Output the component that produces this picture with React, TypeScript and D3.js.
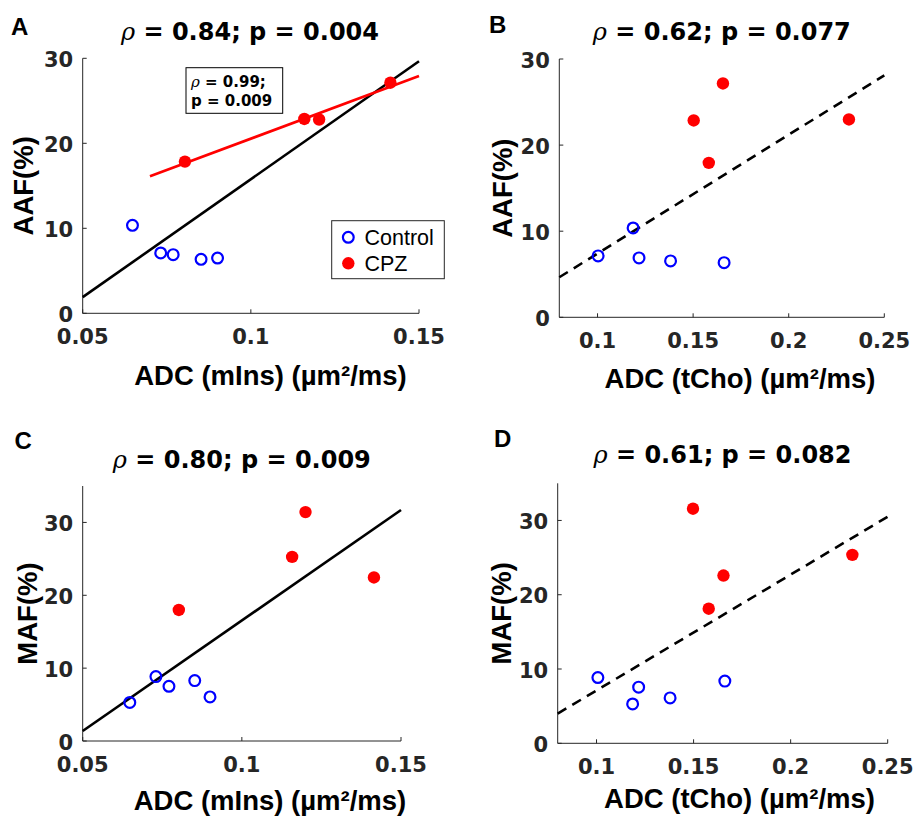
import React from "react";
import * as d3 from "d3";

// ---------- data ----------
const panelLetters = ["A", "B", "C", "D"];
const titleRho = ["0.84", "0.62", "0.80", "0.61"];
const titleP = ["0.004", "0.077", "0.009", "0.082"];
const xLabels = ["ADC (mIns) (µm²/ms)", "ADC (tCho) (µm²/ms)", "ADC (mIns) (µm²/ms)", "ADC (tCho) (µm²/ms)"];
const yLabels = ["AAF(%)", "AAF(%)", "MAF(%)", "MAF(%)"];

const xTicksMIns = [0.05, 0.1, 0.15];
const xTicksTCho = [0.1, 0.15, 0.2, 0.25];
const yTicks = [0, 10, 20, 30];
const xTickText = (v: number) => String(+v.toFixed(2));

const ctrlX_A = [0.0648, 0.0732, 0.0769, 0.0852, 0.0901];
const ctrlY_A = [10.35, 7.1, 6.9, 6.35, 6.5];
const cpzX_A = [0.0804, 0.1159, 0.1203, 0.1415];
const cpzY_A = [17.85, 22.86, 22.8, 27.13];
const fitX_A = [0.05, 0.15];
const fitY_A = [1.9, 29.65];
const cpzFitX_A = [0.07, 0.15];
const cpzFitY_A = [16.12, 27.92];

const ctrlX_B = [0.1003, 0.1186, 0.1217, 0.1382, 0.1662];
const ctrlY_B = [7.13, 10.38, 6.9, 6.55, 6.35];
const cpzX_B = [0.1503, 0.1656, 0.1582, 0.2315];
const cpzY_B = [22.86, 27.16, 17.94, 22.98];
const fitX_B = [0.08, 0.25];
const fitY_B = [4.65, 28.1];

const ctrlX_C = [0.0648, 0.073, 0.0771, 0.0852, 0.09];
const ctrlY_C = [5.29, 8.84, 7.51, 8.29, 6.05];
const cpzX_C = [0.0802, 0.1158, 0.12, 0.1415];
const cpzY_C = [17.99, 25.27, 31.42, 22.45];
const fitX_C = [0.05, 0.15];
const fitY_C = [1.37, 31.7];

const ctrlX_D = [0.1007, 0.1186, 0.1217, 0.1379, 0.1661];
const ctrlY_D = [8.85, 5.3, 7.56, 6.11, 8.37];
const cpzX_D = [0.1497, 0.1654, 0.1578, 0.2318];
const cpzY_D = [31.58, 22.58, 18.12, 25.37];
const fitX_D = [0.08, 0.25];
const fitY_D = [4.0, 30.5];

const legendLabels = ["Control", "CPZ"];
const insetRho = "0.99";
const insetP = "0.009";

// ---------- layout ----------
type Panel = {
  letter: string;
  letterPos: [number, number];
  x0: number; x1: number; yTopPx: number; yBotPx: number;
  xDomain: [number, number]; yDomain: [number, number];
  xTicks: number[];
  titleX: number; titleY: number;
  xLabel: string; xLabelX: number; xLabelY: number;
  yLabel: string; yLabelX: number;
  ctrlX: number[]; ctrlY: number[]; cpzX: number[]; cpzY: number[];
  fitX: number[]; fitY: number[]; dashed: boolean;
  rho: string; p: string;
};

const panels: Panel[] = [
  {
    letter: panelLetters[0], letterPos: [11, 35],
    x0: 82.7, x1: 419, yTopPx: 58.3, yBotPx: 313.3,
    xDomain: [0.05, 0.15], yDomain: [0, 30], xTicks: xTicksMIns,
    titleX: 250, titleY: 40,
    xLabel: xLabels[0], xLabelX: 270.5, xLabelY: 385,
    yLabel: yLabels[0], yLabelX: 23,
    ctrlX: ctrlX_A, ctrlY: ctrlY_A, cpzX: cpzX_A, cpzY: cpzY_A,
    fitX: fitX_A, fitY: fitY_A, dashed: false,
    rho: titleRho[0], p: titleP[0],
  },
  {
    letter: panelLetters[1], letterPos: [489, 33],
    x0: 559.3, x1: 884.3, yTopPx: 59, yBotPx: 317.3,
    xDomain: [0.08, 0.25], yDomain: [0, 30], xTicks: xTicksTCho,
    titleX: 721.8, titleY: 40,
    xLabel: xLabels[1], xLabelX: 740, xLabelY: 388,
    yLabel: yLabels[1], yLabelX: 502.5,
    ctrlX: ctrlX_B, ctrlY: ctrlY_B, cpzX: cpzX_B, cpzY: cpzY_B,
    fitX: fitX_B, fitY: fitY_B, dashed: true,
    rho: titleRho[1], p: titleP[1],
  },
  {
    letter: panelLetters[2], letterPos: [14.5, 449],
    x0: 82.7, x1: 401, yTopPx: 486, yBotPx: 741,
    xDomain: [0.05, 0.15], yDomain: [0, 35], xTicks: xTicksMIns,
    titleX: 241.8, titleY: 468.3,
    xLabel: xLabels[2], xLabelX: 270, xLabelY: 810,
    yLabel: yLabels[2], yLabelX: 27,
    ctrlX: ctrlX_C, ctrlY: ctrlY_C, cpzX: cpzX_C, cpzY: cpzY_C,
    fitX: fitX_C, fitY: fitY_C, dashed: false,
    rho: titleRho[2], p: titleP[2],
  },
  {
    letter: panelLetters[3], letterPos: [494, 446.7],
    x0: 557.7, x1: 887.7, yTopPx: 483.3, yBotPx: 743.3,
    xDomain: [0.08, 0.25], yDomain: [0, 35], xTicks: xTicksTCho,
    titleX: 722.5, titleY: 463.3,
    xLabel: xLabels[3], xLabelX: 739.5, xLabelY: 808,
    yLabel: yLabels[3], yLabelX: 501,
    ctrlX: ctrlX_D, ctrlY: ctrlY_D, cpzX: cpzX_D, cpzY: cpzY_D,
    fitX: fitX_D, fitY: fitY_D, dashed: true,
    rho: titleRho[3], p: titleP[3],
  },
];

const AX = "#262626";
const ARIAL = "'Liberation Sans', Arial, sans-serif";
const DJV = "'DejaVu Sans', sans-serif";
const SERIF = "'DejaVu Serif', serif";

function PanelView({ p, idx }: { p: Panel; idx: number }) {
  const x = d3.scaleLinear().domain(p.xDomain).range([p.x0, p.x1]);
  const y = d3.scaleLinear().domain(p.yDomain).range([p.yBotPx, p.yTopPx]);
  const line = d3.line<number>().x((_, i) => x(p.fitX[i])).y((v) => y(v));
  const yMid = (p.yBotPx + p.yTopPx) / 2;

  return (
    <g>
      {/* panel letter */}
      <text x={p.letterPos[0]} y={p.letterPos[1]} fontFamily={ARIAL} fontWeight="bold" fontSize={24} fill="#000">
        {p.letter}
      </text>
      {/* title */}
      <text x={p.titleX} y={p.titleY} textAnchor="middle" fontSize={24} fill="#000">
        <tspan fontFamily={SERIF} fontStyle="italic">ρ</tspan>
        <tspan fontFamily={DJV} fontWeight="bold">{` = ${p.rho}; p = ${p.p}`}</tspan>
      </text>

      {/* axes */}
      <line x1={p.x0} x2={p.x0} y1={p.yTopPx} y2={p.yBotPx} stroke={AX} strokeWidth={1} />
      <line x1={p.x0} x2={p.x1} y1={p.yBotPx} y2={p.yBotPx} stroke={AX} strokeWidth={1} />
      {yTicks.map((t) => (
        <g key={"yt" + t}>
          <line x1={p.x0} x2={p.x0 + 4} y1={y(t)} y2={y(t)} stroke={AX} strokeWidth={1} />
          <text x={p.x0 - 9.5} y={y(t) + 8.5} textAnchor="end" fontFamily={DJV} fontWeight="bold" fontSize={21} fill={AX}>
            {t}
          </text>
        </g>
      ))}
      {p.xTicks.map((t) => (
        <g key={"xt" + t}>
          <line x1={x(t)} x2={x(t)} y1={p.yBotPx} y2={p.yBotPx - 4} stroke={AX} strokeWidth={1} />
          <text x={x(t)} y={p.yBotPx + 31} textAnchor="middle" fontFamily={DJV} fontWeight="bold" fontSize={21} fill={AX}>
            {xTickText(t)}
          </text>
        </g>
      ))}

      {/* axis labels */}
      <text x={p.xLabelX} y={p.xLabelY} textAnchor="middle" fontFamily={ARIAL} fontWeight="bold" fontSize={27.5} fill="#000">
        {p.xLabel}
      </text>
      <text
        transform={`translate(${p.yLabelX},${yMid}) rotate(-90)`}
        textAnchor="middle"
        dy="0.35em"
        fontFamily={ARIAL}
        fontWeight="bold"
        fontSize={27.5}
        fill="#000"
      >
        {p.yLabel}
      </text>

      {/* fit line */}
      <path
        d={line(p.fitY) || ""}
        fill="none"
        stroke="#000"
        strokeWidth={2.6}
        strokeDasharray={p.dashed ? "10,7" : undefined}
      />

      {/* CPZ fit in panel A */}
      {idx === 0 && (
        <path
          d={
            d3
              .line<number>()
              .x((_, i) => x(cpzFitX_A[i]))
              .y((v) => y(v))(cpzFitY_A) || ""
          }
          fill="none"
          stroke="#ff0000"
          strokeWidth={2.6}
        />
      )}

      {/* points */}
      {p.ctrlX.map((v, i) => (
        <circle key={"c" + i} cx={x(v)} cy={y(p.ctrlY[i])} r={5.4} fill="none" stroke="#0000ff" strokeWidth={2.2} />
      ))}
      {p.cpzX.map((v, i) => (
        <circle key={"r" + i} cx={x(v)} cy={y(p.cpzY[i])} r={6.2} fill="#ff0000" />
      ))}

      {idx === 0 && (
        <g>
          {/* legend */}
          <rect x={331.7} y={220.7} width={112.6} height={58} fill="#fff" stroke={AX} strokeWidth={1} />
          <circle cx={348.3} cy={237.3} r={5.4} fill="none" stroke="#0000ff" strokeWidth={2.2} />
          <circle cx={348.3} cy={263.3} r={6.2} fill="#ff0000" />
          <text x={364.5} y={244.5} fontFamily={ARIAL} fontSize={21.5} fill="#000">{legendLabels[0]}</text>
          <text x={364.5} y={271} fontFamily={ARIAL} fontSize={21.5} fill="#000">{legendLabels[1]}</text>
          {/* inset stats */}
          <rect x={186} y={67.7} width={96.7} height={45.6} fill="#fff" stroke="#000" strokeWidth={1} />
          <text x={191} y={87.3} fontSize={15} fill="#000">
            <tspan fontFamily={SERIF} fontStyle="italic">ρ</tspan>
            <tspan fontFamily={DJV} fontWeight="bold">{` = ${insetRho};`}</tspan>
          </text>
          <text x={191} y={106} fontSize={15} fill="#000" fontFamily={DJV} fontWeight="bold">
            {`p = ${insetP}`}
          </text>
        </g>
      )}
    </g>
  );
}

export default function App() {
  return (
    <svg
      width={915}
      height={820}
      style={{ position: "absolute", left: 0, top: 0, background: "#fff" }}
    >
      <rect x={0} y={0} width={915} height={820} fill="#fff" />
      {panels.map((p, i) => (
        <PanelView key={i} p={p} idx={i} />
      ))}
    </svg>
  );
}
